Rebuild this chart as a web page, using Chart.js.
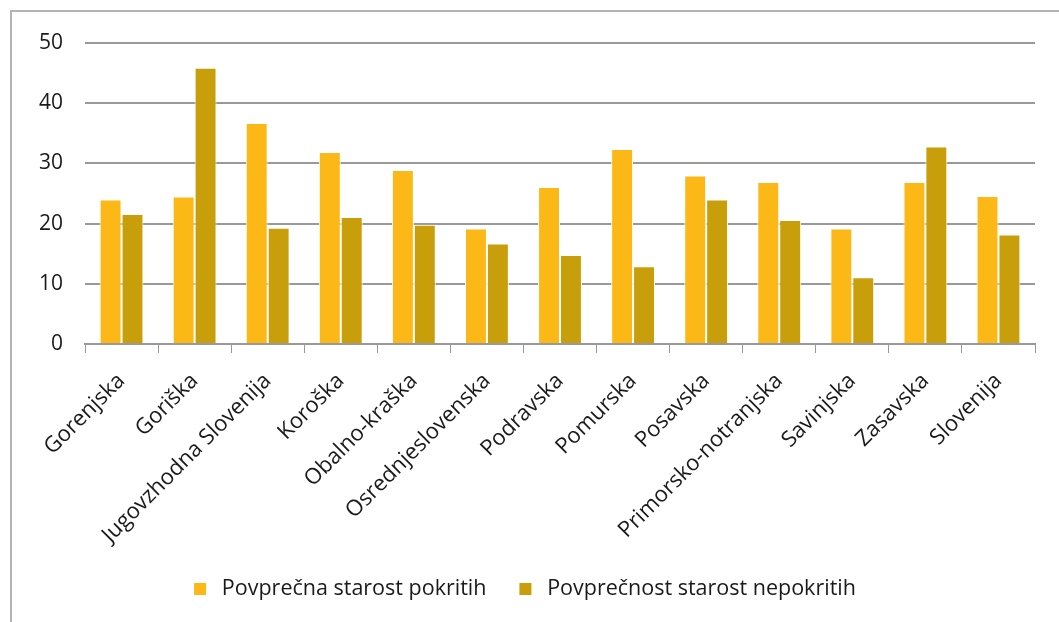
<!DOCTYPE html>
<html>
<head>
<meta charset="utf-8">
<script src="https://cdn.jsdelivr.net/npm/chart.js@4/dist/chart.umd.min.js"></script>
<style>
  html, body { margin: 0; padding: 0; background: #fff; overflow: hidden; }
  #frame { position: absolute; left: 10px; top: 10px; width: 1100px; height: 700px; border-left: 2px solid #b4b4b4; border-top: 2px solid #b4b4b4; }
  #wrap { position: absolute; left: 0; top: 0; width: 1059px; height: 622px; }
</style>
</head>
<body>
<div id="frame"></div>
<div id="wrap"><canvas id="chart" width="1059" height="622"></canvas></div>
<script>
// regije
const regions = ['Gorenjska', 'Goriška', 'Jugovzhodna Slovenija', 'Koroška', 'Obalno-kraška',
    'Osrednjeslovenska', 'Podravska', 'Pomurska', 'Posavska', 'Primorsko-notranjska',
    'Savinjska', 'Zasavska', 'Slovenija'];
const covered = [24.0, 24.5, 36.7, 31.9, 28.9, 19.2, 26.1, 32.4, 28.0, 26.9, 19.2, 26.9, 24.6];
const uncovered = [21.6, 45.9, 19.3, 21.1, 19.8, 16.7, 14.8, 12.9, 24.0, 20.6, 11.1, 32.8, 18.2];
const yTicks = [0, 10, 20, 30, 40, 50];

const fontFam = "'Open Sans', 'Noto Sans', sans-serif";

new Chart(document.getElementById('chart'), {
    type: 'bar',
    data: {
        labels: regions,
        datasets: [
            {
                label: 'Povprečna starost pokritih',
                data: covered,
                backgroundColor: '#fbb817',
                borderColor: '#fff',
                borderWidth: 1,
                categoryPercentage: 0.6,
                barPercentage: 1
            },
            {
                label: 'Povprečnost starost nepokritih',
                data: uncovered,
                backgroundColor: '#c89e0a',
                borderColor: '#fff',
                borderWidth: 1,
                categoryPercentage: 0.6,
                barPercentage: 1
            }
        ]
    },
    options: {
        responsive: false,
        animation: false,
        layout: { padding: { left: 10, top: 43, right: 24, bottom: 12 } },
        plugins: {
            tooltip: { enabled: false },
            legend: {
                position: 'bottom',
                labels: {
                    color: '#1a1a1a',
                    font: { family: fontFam, size: 21.5 },
                    boxWidth: 22,
                    boxHeight: 22,
                    padding: 28,
                    // thick white stroke leaves a small square swatch with more room before the text
                    generateLabels: (chart) => Chart.defaults.plugins.legend.labels.generateLabels(chart)
                        .map(item => ({ ...item, strokeStyle: '#fff', lineWidth: 10 }))
                }
            }
        },
        scales: {
            x: {
                grid: { offset: true, drawOnChartArea: false, color: '#999', tickLength: 9 },
                border: { color: '#999', width: 2 },
                ticks: {
                    color: '#1a1a1a',
                    font: { family: fontFam, size: 22 },
                    maxRotation: 45,
                    minRotation: 45,
                    padding: 15
                },
                afterFit: (scale) => { scale.height = 206; }
            },
            y: {
                min: 0,
                max: 50,
                afterBuildTicks: (scale) => { scale.ticks = yTicks.map(v => ({ value: v })); },
                grid: { color: '#999', lineWidth: 2, drawTicks: false },
                border: { display: false },
                ticks: {
                    color: '#1a1a1a',
                    font: { family: fontFam, size: 21 },
                    padding: 22
                },
                afterFit: (scale) => { scale.width = 75; }
            }
        }
    }
});
</script>
</body>
</html>
